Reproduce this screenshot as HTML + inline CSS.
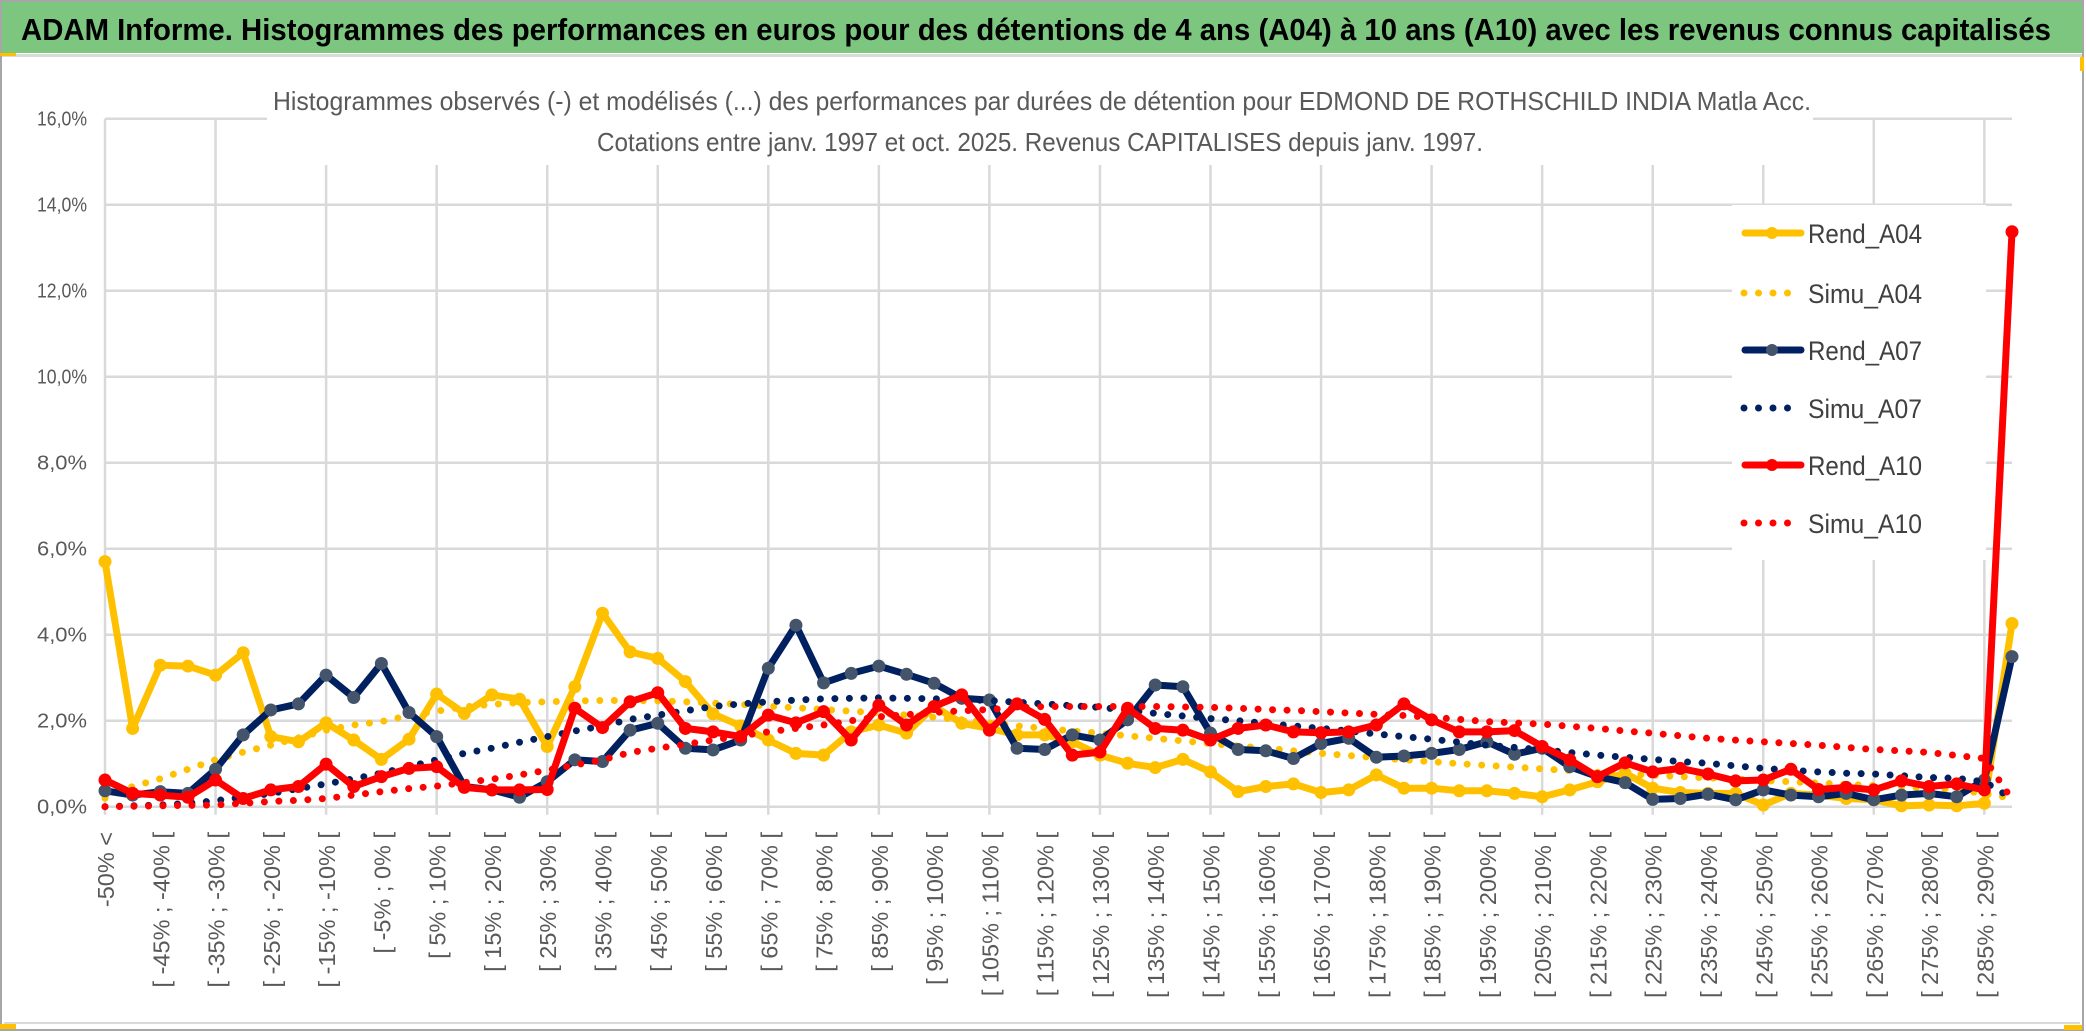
<!DOCTYPE html>
<html><head><meta charset="utf-8"><style>
html,body{margin:0;padding:0;background:#fff;}
svg{display:block;font-family:"Liberation Sans",sans-serif;}
</style></head><body>
<svg id="chart" width="2086" height="1033" viewBox="0 0 2086 1033">
<rect x="0" y="0" width="2086" height="1033" fill="#fff"/>
<rect x="1" y="1" width="2082" height="1029" fill="none" stroke="#a6a6a6" stroke-width="2"/>
<rect x="2" y="2" width="2080" height="51" fill="#7dc67f"/>
<text x="1036" y="40" text-anchor="middle" font-size="31" font-weight="bold" fill="#000" textLength="2030" lengthAdjust="spacingAndGlyphs">ADAM Informe. Histogrammes des performances en euros pour des détentions de 4 ans (A04) à 10 ans (A10) avec les revenus connus capitalisés</text>
<rect x="2" y="54" width="2080" height="3" fill="#d9d9d9"/>
<rect x="0" y="53" width="16" height="3" fill="#ffc000"/>
<rect x="2080" y="57" width="4" height="14" fill="#ffc000"/>
<rect x="0" y="1024" width="16" height="5" fill="#ffc000"/>
<rect x="2064" y="1025" width="18" height="5" fill="#ffc000"/>
<line x1="4" y1="1023" x2="2080" y2="1023" stroke="#d9d9d9" stroke-width="2"/>
<g id="grid"></g>
<g id="yaxis"></g>
<g id="xaxis"></g>
<rect x="267" y="84" width="1546" height="81" fill="#fff"/>
<text x="1042" y="110" text-anchor="middle" font-size="26" fill="#595959" textLength="1538" lengthAdjust="spacingAndGlyphs">Histogrammes observés (-) et modélisés (...) des performances par durées de détention pour EDMOND DE ROTHSCHILD INDIA Matla Acc.</text>
<text x="1040" y="151" text-anchor="middle" font-size="26" fill="#595959" textLength="886" lengthAdjust="spacingAndGlyphs">Cotations entre janv. 1997 et oct. 2025. Revenus CAPITALISES depuis janv. 1997.</text>
<rect x="1732" y="205" width="254" height="355" fill="#fff"/>
<g id="series"></g>
<g id="legend"></g>
</svg>
<script>
const categories = ["-50% <","[ -50% ; -45% [","[ -45% ; -40% [","[ -40% ; -35% [","[ -35% ; -30% [","[ -30% ; -25% [","[ -25% ; -20% [","[ -20% ; -15% [","[ -15% ; -10% [","[ -10% ; -5% [","[ -5% ; 0% [","[ 0% ; 5% [","[ 5% ; 10% [","[ 10% ; 15% [","[ 15% ; 20% [","[ 20% ; 25% [","[ 25% ; 30% [","[ 30% ; 35% [","[ 35% ; 40% [","[ 40% ; 45% [","[ 45% ; 50% [","[ 50% ; 55% [","[ 55% ; 60% [","[ 60% ; 65% [","[ 65% ; 70% [","[ 70% ; 75% [","[ 75% ; 80% [","[ 80% ; 85% [","[ 85% ; 90% [","[ 90% ; 95% [","[ 95% ; 100% [","[ 100% ; 105% [","[ 105% ; 110% [","[ 110% ; 115% [","[ 115% ; 120% [","[ 120% ; 125% [","[ 125% ; 130% [","[ 130% ; 135% [","[ 135% ; 140% [","[ 140% ; 145% [","[ 145% ; 150% [","[ 150% ; 155% [","[ 155% ; 160% [","[ 160% ; 165% [","[ 165% ; 170% [","[ 170% ; 175% [","[ 175% ; 180% [","[ 180% ; 185% [","[ 185% ; 190% [","[ 190% ; 195% [","[ 195% ; 200% [","[ 200% ; 205% [","[ 205% ; 210% [","[ 210% ; 215% [","[ 215% ; 220% [","[ 220% ; 225% [","[ 225% ; 230% [","[ 230% ; 235% [","[ 235% ; 240% [","[ 240% ; 245% [","[ 245% ; 250% [","[ 250% ; 255% [","[ 255% ; 260% [","[ 260% ; 265% [","[ 265% ; 270% [","[ 270% ; 275% [","[ 275% ; 280% [","[ 280% ; 285% [","[ 285% ; 290% [","290% >"];
const yTicks = [0,2,4,6,8,10,12,14,16];
const yTickLabels = ["0,0%","2,0%","4,0%","6,0%","8,0%","10,0%","12,0%","14,0%","16,0%"];
const rendA04 = [5.70,1.82,3.29,3.27,3.06,3.58,1.63,1.51,1.95,1.55,1.10,1.57,2.62,2.17,2.60,2.50,1.40,2.79,4.50,3.60,3.45,2.91,2.16,1.88,1.55,1.24,1.20,1.74,1.90,1.71,2.33,1.94,1.82,1.67,1.67,1.51,1.20,1.01,0.91,1.10,0.81,0.35,0.47,0.53,0.33,0.39,0.74,0.43,0.43,0.37,0.37,0.31,0.23,0.39,0.58,0.78,0.43,0.33,0.31,0.31,0.04,0.31,0.27,0.19,0.16,0.02,0.04,0.02,0.08,4.26];
const simuA04 = [0.20,0.47,0.65,0.87,1.09,1.27,1.43,1.60,1.78,1.90,1.98,2.12,2.22,2.32,2.38,2.42,2.44,2.46,2.47,2.47,2.46,2.44,2.41,2.38,2.34,2.30,2.26,2.22,2.18,2.13,2.08,2.02,1.95,1.88,1.82,1.76,1.71,1.65,1.59,1.53,1.47,1.41,1.36,1.30,1.24,1.19,1.14,1.09,1.05,1.00,0.96,0.92,0.88,0.84,0.80,0.76,0.73,0.70,0.67,0.64,0.61,0.58,0.55,0.52,0.49,0.46,0.43,0.40,0.30,0.20];
const rendA07 = [0.37,0.27,0.35,0.31,0.87,1.67,2.25,2.39,3.06,2.54,3.33,2.19,1.63,0.47,0.39,0.22,0.58,1.09,1.05,1.78,1.94,1.36,1.32,1.55,3.22,4.22,2.88,3.10,3.27,3.08,2.87,2.52,2.48,1.36,1.33,1.67,1.55,2.02,2.83,2.79,1.71,1.33,1.30,1.12,1.47,1.59,1.15,1.18,1.24,1.33,1.51,1.22,1.36,0.93,0.70,0.56,0.17,0.19,0.29,0.16,0.39,0.27,0.23,0.31,0.16,0.27,0.31,0.23,0.62,3.49];
const simuA07 = [0.00,0.02,0.04,0.08,0.14,0.22,0.31,0.42,0.53,0.65,0.78,0.93,1.09,1.24,1.36,1.50,1.63,1.76,1.88,2.03,2.13,2.23,2.33,2.39,2.44,2.48,2.51,2.52,2.53,2.52,2.51,2.49,2.47,2.43,2.39,2.35,2.31,2.25,2.17,2.11,2.05,2.00,1.94,1.88,1.82,1.76,1.69,1.63,1.57,1.50,1.43,1.38,1.32,1.26,1.20,1.15,1.10,1.05,1.01,0.95,0.89,0.85,0.81,0.78,0.76,0.72,0.68,0.66,0.58,0.19];
const rendA10 = [0.62,0.31,0.27,0.22,0.62,0.19,0.39,0.47,0.99,0.47,0.70,0.89,0.93,0.45,0.39,0.39,0.40,2.29,1.84,2.44,2.65,1.82,1.74,1.63,2.13,1.95,2.21,1.55,2.36,1.90,2.33,2.60,1.78,2.39,2.03,1.20,1.27,2.29,1.82,1.78,1.55,1.82,1.90,1.74,1.72,1.74,1.90,2.39,2.02,1.74,1.74,1.77,1.40,1.09,0.70,1.02,0.81,0.89,0.76,0.60,0.62,0.87,0.40,0.45,0.39,0.60,0.47,0.53,0.39,13.37];
const simuA10 = [0.00,0.01,0.02,0.03,0.04,0.08,0.12,0.15,0.19,0.27,0.35,0.42,0.48,0.56,0.64,0.74,0.85,0.97,1.09,1.26,1.36,1.45,1.55,1.65,1.74,1.82,1.90,2.00,2.09,2.14,2.19,2.23,2.26,2.30,2.33,2.33,2.33,2.33,2.33,2.32,2.31,2.29,2.26,2.24,2.21,2.18,2.15,2.12,2.08,2.03,1.98,1.95,1.92,1.87,1.82,1.76,1.71,1.65,1.59,1.55,1.51,1.47,1.43,1.38,1.33,1.30,1.26,1.19,1.12,0.17];
const seriesNames = ["Rend_A04","Simu_A04","Rend_A07","Simu_A07","Rend_A10","Simu_A10"];

const NS="http://www.w3.org/2000/svg";
const X0=105, X1=2012, Y0=806.7, PX_PER=43;
function xScale(i){return X0 + i*(X1-X0)/(categories.length-1);}
function yScale(v){return Y0 - v*PX_PER;}
function mk(tag,attrs,parent){const e=document.createElementNS(NS,tag);for(const k in attrs)e.setAttribute(k,attrs[k]);parent.appendChild(e);return e;}

const grid=document.getElementById('grid');
yTicks.forEach((t,k)=>{
  const y=yScale(t);
  const l=mk('line',{x1:X0,y1:y,x2:X1,y2:y,stroke:'#d9d9d9','stroke-width':2.5},grid);
  
  
});
for(let i=0;i<categories.length;i+=4){
  const x=xScale(i);
  const l=mk('line',{x1:x,y1:yScale(yTicks[yTicks.length-1]),x2:x,y2:Y0+8,stroke:'#d9d9d9','stroke-width':2.5},grid);
  
  
}
const yaxis=document.getElementById('yaxis');
yTicks.forEach((t,k)=>{
  const tx=mk('text',{x:87,y:yScale(t)+7,'text-anchor':'end','font-size':20,fill:'#595959',textLength:50,lengthAdjust:'spacingAndGlyphs'},yaxis);
  tx.textContent=yTickLabels[k];
  
  
});
const xaxis=document.getElementById('xaxis');
for(let i=0;i<categories.length-1;i+=2){
  const x=xScale(i)+9, y=832;
  const tx=mk('text',{x:x,y:y,'text-anchor':'end','font-size':23.5,fill:'#595959',transform:`rotate(-90 ${x} ${y})`},xaxis);
  tx.textContent=categories[i];
  
  
}
const sg=document.getElementById('series');
const defs=[
 {vals:rendA04,color:'#ffc000',solid:true,mfill:'#ffc000',name:'rend-a04'},
 {vals:simuA04,color:'#ffc000',solid:false,name:'simu-a04'},
 {vals:rendA07,color:'#002060',solid:true,mfill:'#44546a',name:'rend-a07'},
 {vals:simuA07,color:'#002060',solid:false,name:'simu-a07'},
 {vals:rendA10,color:'#ff0000',solid:true,mfill:'#ff0000',name:'rend-a10'},
 {vals:simuA10,color:'#ff0000',solid:false,name:'simu-a10'}
];
defs.forEach(d=>{
  const pts=d.vals.map((v,i)=>xScale(i).toFixed(1)+','+yScale(v).toFixed(1)).join(' ');
  const g=mk('g',{},sg);
  
  
  if(d.solid){
    const pl=mk('polyline',{points:pts,fill:'none',stroke:d.color,'stroke-width':7,'stroke-linejoin':'round','stroke-linecap':'round'},g);
    
    
    d.vals.forEach((v,i)=>{
      const c=mk('circle',{cx:xScale(i),cy:yScale(v),r:6.5,fill:d.mfill},g);
      
      
    });
  } else {
    const pl=mk('polyline',{points:pts,fill:'none',stroke:d.color,'stroke-width':7,'stroke-dasharray':'0 14.5','stroke-linecap':'round','stroke-linejoin':'round'},g);
    
    
  }
});
const lg=document.getElementById('legend');
const legY=[233,293,350,408,465,523];
defs.forEach((d,k)=>{
  const y=legY[k];
  const g=mk('g',{},lg);
  
  
  if(d.solid){
    mk('line',{x1:1745,y1:y,x2:1801,y2:y,stroke:d.color,'stroke-width':7,'stroke-linecap':'round'},g);
    mk('circle',{cx:1772,cy:y,r:6,fill:d.mfill},g);
  } else {
    mk('line',{x1:1744,y1:y,x2:1792,y2:y,stroke:d.color,'stroke-width':7,'stroke-dasharray':'0 14.5','stroke-linecap':'round'},g);
  }
  const t=mk('text',{x:1808,y:y+10,'font-size':27,fill:'#404040',textLength:114,lengthAdjust:'spacingAndGlyphs'},g);
  t.textContent=seriesNames[k];
  
  
});
</script>
</body></html>
